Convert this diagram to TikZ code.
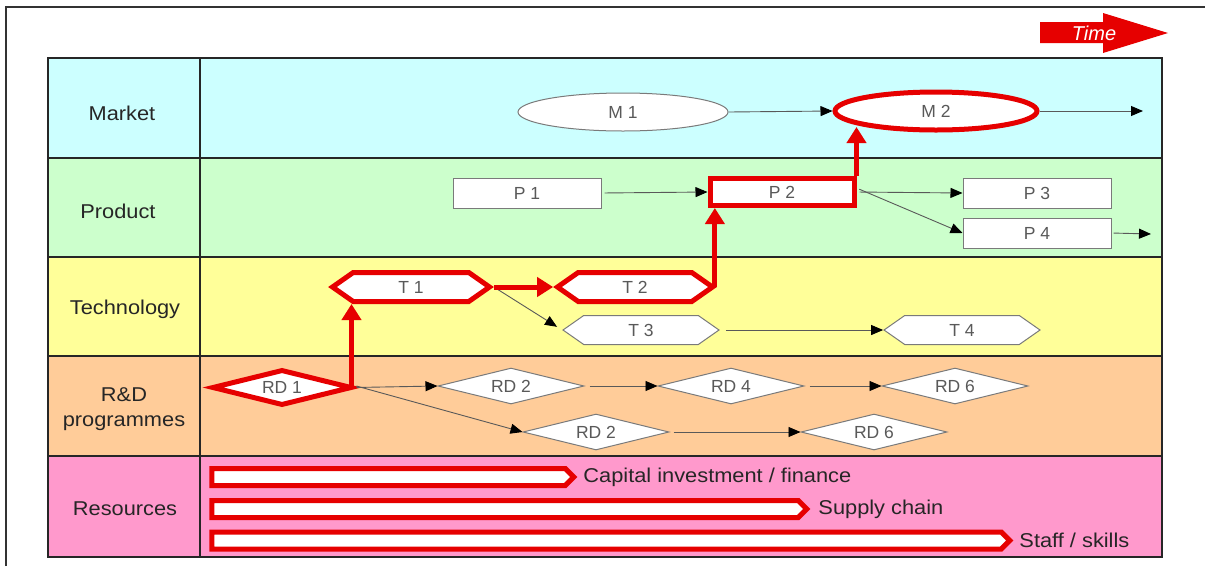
\documentclass[tikz,border=0pt]{standalone}
\usepackage{fontspec}
\setmainfont{Liberation Sans}
\newfontfamily\widesans[FakeStretch=1.09]{Liberation Sans}
\usetikzlibrary{shapes.geometric,shapes.symbols,arrows.meta,calc}
\definecolor{mktc}{HTML}{CCFFFF}
\definecolor{prdc}{HTML}{CCFFCC}
\definecolor{tecc}{HTML}{FFFF99}
\definecolor{rdc}{HTML}{FFCC99}
\definecolor{resc}{HTML}{FF99CC}
\definecolor{myred}{HTML}{E60000}
\definecolor{gline}{HTML}{7A7A7A}
\begin{document}
\begin{tikzpicture}[x=1pt,y=-1pt,
  rowlab/.style={font=\widesans\fontsize{20}{24}\selectfont, text=black!85, align=center},
  ntext/.style={font=\fontsize{17.5}{20}\selectfont, text=black!65, fill=white, inner sep=0pt},
  gshape/.style={ntext, draw=gline, line width=1pt},
  rshape/.style={ntext, draw=myred, line width=5pt},
  mshape/.style={ellipse, minimum width=#1, minimum height=38pt},
  pshape/.style={rectangle, minimum width=148pt, minimum height=30pt},
  tshape/.style={signal, signal to=east and west, signal pointer angle=70, minimum width=#1, minimum height=29pt},
  dshape/.style={diamond, aspect=4, minimum width=146pt, minimum height=36pt},
  thin/.style={line width=0.9pt, draw=black!65, -{Triangle[length=12pt,width=10pt,color=black]}},
  redarr/.style={line width=5pt, draw=myred, -{Triangle[length=16pt,width=19pt]}},
  resbar/.style={signal, signal to=east, signal pointer angle=90, draw=myred, fill=white, line width=5pt, minimum height=17pt, inner sep=0pt},
  restext/.style={font=\widesans\fontsize{20}{24}\selectfont, text=black!85, anchor=west, inner sep=0pt}
]
\useasboundingbox (0,0) rectangle (1205,566);
\fill[white] (0,0) rectangle (1205,566);
% outer frame
\draw[line width=2pt, black!80] (6,566) -- (6,7) -- (1205,7);
% Time arrow
\fill[myred] (1040,22) -- (1103,22) -- (1103,13) -- (1168,33) -- (1103,53) -- (1103,43) -- (1040,43) -- cycle;
\node[font=\fontsize{20}{22}\selectfont\itshape, text=white, inner sep=0pt] (time) at (1094,33) {Time};
% row backgrounds
\fill[mktc] (48,58) rectangle (1162,158);
\fill[prdc] (48,158) rectangle (1162,257);
\fill[tecc] (48,257) rectangle (1162,356);
\fill[rdc] (48,356) rectangle (1162,456);
\fill[resc] (48,456) rectangle (1162,557);
\draw[line width=2.5pt, black!85] (48,58) rectangle (1162,557);
\draw[line width=2.5pt, black!85] (200,58) -- (200,557)
  (48,158) -- (1162,158) (48,257) -- (1162,257) (48,356) -- (1162,356) (48,456) -- (1162,456);
% row labels
\node[rowlab] (lmkt) at (122,113) {Market};
\node[rowlab] (lprd) at (118,211) {Product};
\node[rowlab] (ltec) at (125,309) {Technology};
\node[rowlab] (lrd) at (124,409) {R\&D\\[1pt]programmes};
\node[rowlab] (lres) at (125,509) {Resources};
% market
\node[gshape, mshape=210pt] (M1) at (623,112) {M 1};
\node[rshape, mshape=202pt] (M2) at (936,111) {M 2};
\coordinate (Mend) at (1143,111);
% product
\node[gshape, pshape] (P1) at (527,193) {P 1};
\node[rshape, pshape, minimum width=144pt, minimum height=27pt] (P2) at (782,192) {P 2};
\node[gshape, pshape] (P3) at (1037,193) {P 3};
\node[gshape, pshape] (P4) at (1037,233) {P 4};
\coordinate (Pend) at (1151,234);
% technology
\node[rshape, tshape=157pt] (T1) at (411,287) {T 1};
\node[rshape, tshape=155pt] (T2) at (635,287) {T 2};
\node[gshape, tshape=156pt] (T3) at (641,330) {T 3};
\node[gshape, tshape=156pt] (T4) at (962,330) {T 4};
% R&D
\node[rshape, dshape, minimum width=140pt, minimum height=36pt] (RD1) at (282,387.5) {RD 1};
\node[gshape, dshape] (RD2a) at (511,386) {RD 2};
\node[gshape, dshape] (RD4) at (731,386) {RD 4};
\node[gshape, dshape] (RD6a) at (955,386) {RD 6};
\node[gshape, dshape] (RD2b) at (596,432) {RD 2};
\node[gshape, dshape] (RD6b) at (874,432) {RD 6};
% resources
\node[resbar, minimum width=362pt] (R1) at (388.5,477) {};
\node[resbar, minimum width=595pt] (R2) at (505,509) {};
\node[resbar, minimum width=798pt] (R3) at (606.5,540.5) {};
\node[restext] (R1t) at ([xshift=6pt]R1.east) {Capital investment / finance};
\node[restext] (R2t) at ([xshift=8pt]R2.east) {Supply chain};
\node[restext] (R3t) at ([xshift=6pt]R3.east) {Staff / skills};
% thin connectors
\draw[thin] (M1.east) -- (M2.west);
\draw[thin] (M2.east) -- (Mend);
\draw[thin, shorten <=3pt] (P1.east) -- (P2.west);
\draw[thin, shorten <=3pt] (P2.east) -- (P3.west);
\draw[thin, shorten <=3pt] ([yshift=4pt]P2.east) -- (P4.west);
\draw[thin, shorten <=2pt] (P4.east) -- (Pend);
\draw[thin, shorten <=3pt, shorten >=6pt] (T1.east) -- (T3.west);
\draw[thin, shorten <=6pt] (T3.east) -- (T4.west);
\draw[thin, shorten <=2pt] (RD1.east) -- (RD2a.west);
\draw[thin, shorten <=2pt] ([yshift=2pt]RD1.east) -- (RD2b.west);
\draw[thin, shorten <=5pt] (RD2a.east) -- (RD4.west);
\draw[thin, shorten <=5pt] (RD4.east) -- (RD6a.west);
\draw[thin, shorten <=4pt] (RD2b.east) -- (RD6b.west);
% red critical path
\draw[redarr] ([xshift=-3pt]RD1.east) -- ([xshift=-3pt]RD1.east |- T1.south);
\draw[redarr] (T1.east) -- (T2.west);
\draw[redarr] ([xshift=-2pt]T2.east) -- ([xshift=-2pt]T2.east |- P2.south);
\draw[redarr] (P2.north east) -- ($(P2.north east |- M2.center)+(0,16)$);
\end{tikzpicture}
\end{document}
